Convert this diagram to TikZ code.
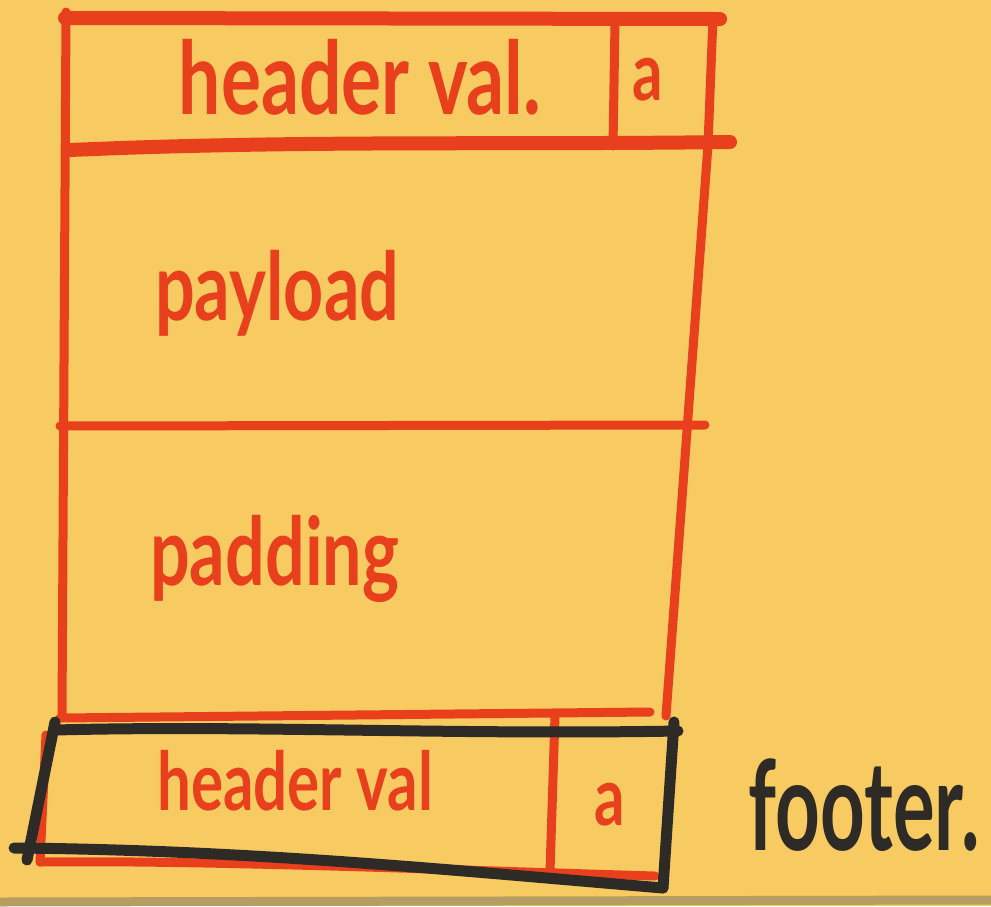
\documentclass[tikz,border=0pt]{standalone}
\usepackage{fontspec}
\setmainfont{Lato}
\definecolor{paper}{HTML}{F8CB62}
\definecolor{marker}{HTML}{E8401C}
\definecolor{ink}{HTML}{2E2B26}
\definecolor{smudge}{HTML}{9A8A62}
\tikzset{
  redline/.style={draw=marker, line width=14pt, line cap=round},
  redthin/.style={draw=marker, line width=9pt, line cap=round},
  blackline/.style={draw=ink, line width=11pt, line cap=round},
  redtext/.style={text=marker, font=\bfseries\fontsize{70}{70}\selectfont, inner sep=0pt},
  redbig/.style={text=marker, font=\bfseries\fontsize{75}{75}\selectfont, inner sep=0pt},
  redsmall/.style={text=marker, font=\bfseries\fontsize{60}{60}\selectfont, inner sep=0pt},
  blacktext/.style={text=ink, font=\bfseries\fontsize{78}{78}\selectfont, inner sep=0pt},
}
\newcommand{\tallA}[1]{\scalebox{1}[1.35]{#1}}
\newcommand{\tallB}[1]{\scalebox{1}[1.6]{#1}}
\begin{document}
\begin{tikzpicture}[x=1pt,y=-1pt]
\fill[paper] (0,0) rectangle (991,906);
\useasboundingbox (0,0) rectangle (991,906);
% gray smudge at bottom
\draw[smudge, line width=9pt, opacity=0.7] (0,902) -- (991,900);
% header box
\draw[redline] (65,18) -- (720,19);
\draw[redline] (70,150) .. controls (300,140) and (500,145) .. (730,142);
\draw[redthin] (66,12) -- (62,715);
\draw[redthin] (713,17) -- (708,145);
\draw[redthin] (708,145) -- (666,716);
\draw[redthin] (615,22) -- (613,146);
% middle divider
\draw[redthin] (60,426) -- (705,425);
% footer red parts
\draw[redthin] (60,718) -- (650,712);
\draw[redthin] (46,735) -- (40,862);
\draw[redthin] (40,862) .. controls (200,860) and (450,870) .. (655,876);
\draw[redthin] (555,716) -- (550,872);
% footer black box
\draw[blackline] (55,730) .. controls (250,725) and (450,735) .. (678,731);
\draw[blackline] (55,722) -- (27,860);
\draw[blackline] (14,848) .. controls (250,850) and (450,870) .. (663,888);
\draw[blackline] (674,722) -- (663,888);
% texts
\node[redbig, anchor=base] (hv1) at (360,114) {\tallA{header val.}};
\node[redsmall, anchor=base] (a1) at (648,100) {\tallA{a}};
\node[redtext, anchor=base west] (pay) at (155,320) {\tallA{payload}};
\node[redtext, anchor=base west] (pad) at (150,585) {\tallA{padding}};
\node[redsmall, anchor=base] (hv2) at (295,810) {\tallA{header val}};
\node[redsmall, anchor=base] (a2) at (610,825) {\tallA{a}};
\node[blacktext, anchor=base] (foot) at (864,850) {\tallB{footer.}};
\end{tikzpicture}
\end{document}
